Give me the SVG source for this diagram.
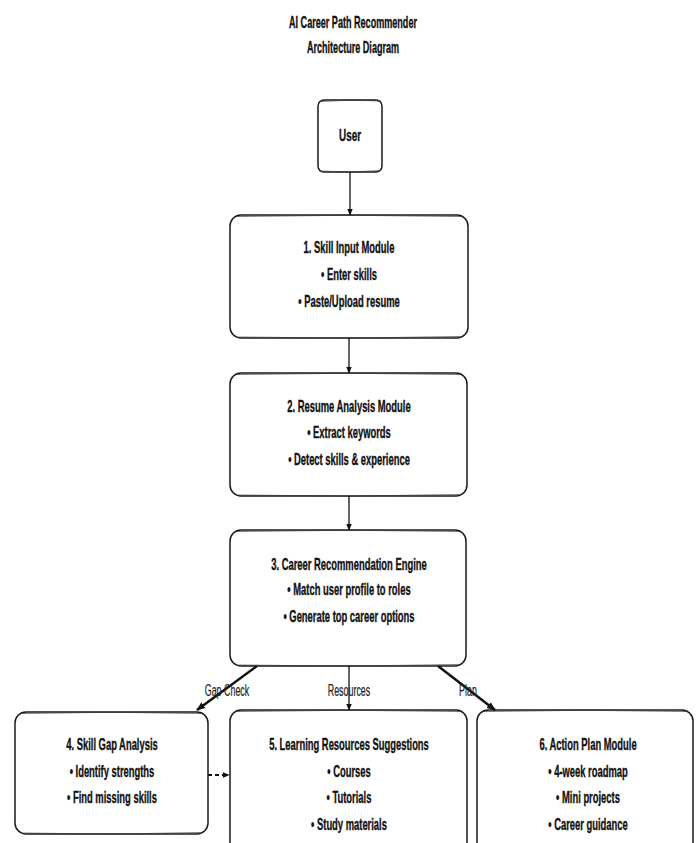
<svg xmlns="http://www.w3.org/2000/svg" width="696" height="843" viewBox="0 0 696 843">
<style>
.box{fill:#fff;stroke:#1a1a1a;stroke-width:1.5}
.sk{fill:none;stroke:#333;stroke-width:0.9;opacity:0.75}
.t{font-family:"Liberation Sans",Arial,sans-serif;font-size:16.5px;font-weight:bold;fill:#111;stroke:#111;stroke-width:0.35;text-anchor:middle}
.lbl{font-family:"Liberation Sans",Arial,sans-serif;font-size:16.5px;fill:#222;stroke:#222;stroke-width:0.2;text-anchor:middle}
.c{fill:none;stroke:#111;stroke-width:1.3}
.cb{fill:none;stroke:#111;stroke-width:2.5}
.cd{fill:none;stroke:#111;stroke-width:1.8;stroke-dasharray:4 3}
</style>
<defs>
<marker id="ah" viewBox="0 0 10 10" refX="9" refY="5" markerWidth="7" markerHeight="7" orient="auto" markerUnits="userSpaceOnUse">
<path d="M0,1 L10,5 L0,9 Z" fill="#111"/>
</marker>
<marker id="ahb" viewBox="0 0 10 10" refX="9" refY="5" markerWidth="9" markerHeight="9" orient="auto" markerUnits="userSpaceOnUse">
<path d="M0,1 L10,5 L0,9 Z" fill="#111"/>
</marker>
</defs>

<g id="title">
<text class="t" transform="translate(353,27.5) scale(0.55,1)">AI Career Path Recommender</text>
<text class="t" transform="translate(353,53) scale(0.55,1)">Architecture Diagram</text>
</g>

<g id="user">
<rect class="box" x="318" y="100" width="64" height="72" rx="6"/>
<path class="sk" d="M320,101.5 Q350,99 381,101 M319,171 Q350,173.5 381,170.5"/>
<text class="t" transform="translate(350,140.5) scale(0.6,1)">User</text>
</g>

<g id="skill-input">
<rect class="box" x="230" y="215" width="238" height="123" rx="11"/>
<path class="sk" d="M236,216.5 Q349,214 462,216.5 M236,337 Q349,339.5 462,336.5"/>
<text class="t" transform="translate(349,253) scale(0.57,1)">1. Skill Input Module</text>
<text class="t" transform="translate(349,280) scale(0.57,1)">• Enter skills</text>
<text class="t" transform="translate(349,307) scale(0.57,1)">• Paste/Upload resume</text>
</g>

<g id="resume-analysis">
<rect class="box" x="230" y="373" width="237" height="123" rx="11"/>
<path class="sk" d="M236,374.5 Q349,372 461,374.5 M236,495 Q349,497.5 461,494.5"/>
<text class="t" transform="translate(349,412) scale(0.57,1)">2. Resume Analysis Module</text>
<text class="t" transform="translate(349,438) scale(0.57,1)">• Extract keywords</text>
<text class="t" transform="translate(349,465) scale(0.57,1)">• Detect skills &amp; experience</text>
</g>

<g id="career-engine">
<rect class="box" x="230" y="530" width="236" height="136" rx="11"/>
<path class="sk" d="M236,531.5 Q349,529 460,531.5 M236,665 Q349,667.5 460,664.5"/>
<text class="t" transform="translate(349,570) scale(0.57,1)">3. Career Recommendation Engine</text>
<text class="t" transform="translate(349,595) scale(0.57,1)">• Match user profile to roles</text>
<text class="t" transform="translate(349,622) scale(0.57,1)">• Generate top career options</text>
</g>

<g id="skill-gap">
<rect class="box" x="15" y="712" width="193" height="122" rx="11"/>
<path class="sk" d="M21,713.5 Q112,711 202,713.5 M21,833 Q112,835.5 202,832.5"/>
<text class="t" transform="translate(112,750) scale(0.57,1)">4. Skill Gap Analysis</text>
<text class="t" transform="translate(112,777) scale(0.57,1)">• Identify strengths</text>
<text class="t" transform="translate(112,803) scale(0.57,1)">• Find missing skills</text>
</g>

<g id="learning-resources">
<rect class="box" x="230" y="710" width="237" height="150" rx="11"/>
<path class="sk" d="M236,711.5 Q349,709 461,711.5"/>
<text class="t" transform="translate(349,750) scale(0.57,1)">5. Learning Resources Suggestions</text>
<text class="t" transform="translate(349,777) scale(0.57,1)">• Courses</text>
<text class="t" transform="translate(349,803) scale(0.57,1)">• Tutorials</text>
<text class="t" transform="translate(349,830) scale(0.57,1)">• Study materials</text>
</g>

<g id="action-plan">
<rect class="box" x="477" y="710" width="216" height="150" rx="11"/>
<path class="sk" d="M483,711.5 Q585,709 687,711.5"/>
<text class="t" transform="translate(588,750) scale(0.57,1)">6. Action Plan Module</text>
<text class="t" transform="translate(588,777) scale(0.57,1)">• 4-week roadmap</text>
<text class="t" transform="translate(588,803) scale(0.57,1)">• Mini projects</text>
<text class="t" transform="translate(588,830) scale(0.57,1)">• Career guidance</text>
</g>

<g id="connectors">
<line class="c" x1="350" y1="172" x2="350" y2="215" marker-end="url(#ah)"/>
<line class="c" x1="349" y1="338" x2="349" y2="373" marker-end="url(#ah)"/>
<line class="c" x1="349" y1="496" x2="349" y2="530" marker-end="url(#ah)"/>
<line class="cb" x1="257" y1="666" x2="197" y2="710" marker-end="url(#ahb)"/>
<line class="c" x1="349" y1="666" x2="349" y2="710" marker-end="url(#ah)"/>
<line class="cb" x1="438" y1="666" x2="495" y2="710" marker-end="url(#ahb)"/>
<line class="cd" x1="208" y1="775" x2="229" y2="775" marker-end="url(#ah)"/>
<text class="lbl" transform="translate(227,696) scale(0.54,1)">Gap Check</text>
<text class="lbl" transform="translate(349,696) scale(0.54,1)">Resources</text>
<text class="lbl" transform="translate(468,696) scale(0.54,1)">Plan</text>
</g>
</svg>
